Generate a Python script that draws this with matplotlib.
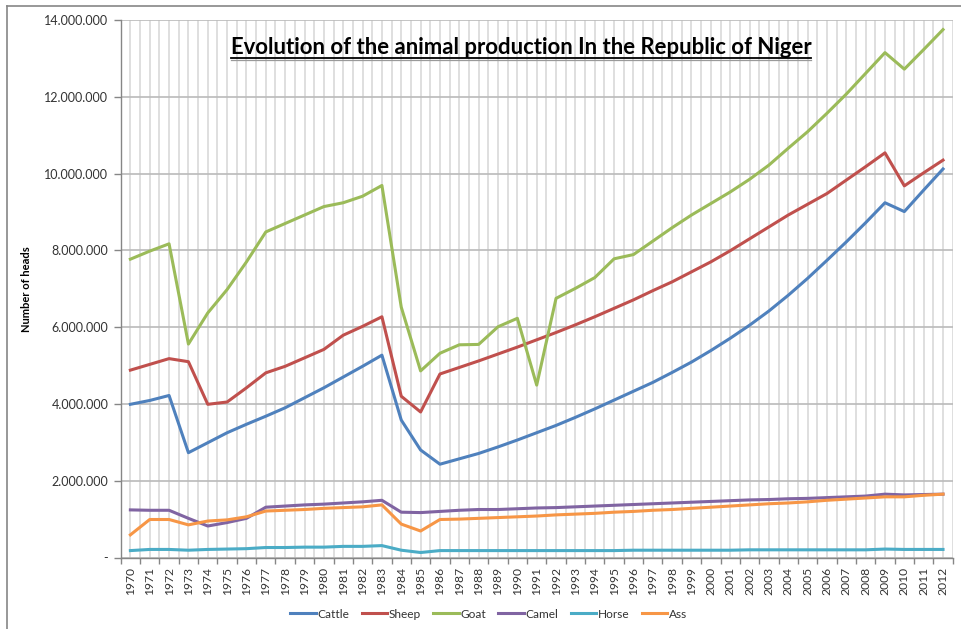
import matplotlib
matplotlib.use("Agg")
import matplotlib.pyplot as plt
from matplotlib.lines import Line2D
from matplotlib.ticker import FuncFormatter, FixedLocator
import numpy as np

plt.rcParams['font.family'] = ['Lato', 'DejaVu Sans']

years = [str(y) for y in range(1970, 2013)]

cattle = [3990000, 4090000, 4220000, 2730000, 2990000, 3250000, 3470000, 3680000, 3900000, 4160000,
          4420000, 4700000, 4980000, 5270000, 3580000, 2800000, 2430000, 2570000, 2710000, 2880000,
          3060000, 3250000, 3440000, 3650000, 3870000, 4100000, 4330000, 4560000, 4820000, 5090000,
          5390000, 5710000, 6050000, 6420000, 6830000, 7270000, 7740000, 8220000, 8720000, 9240000,
          9010000, 9570000, 10120000]
sheep = [4880000, 5030000, 5180000, 5100000, 3990000, 4050000, 4420000, 4810000, 4980000, 5200000,
         5420000, 5790000, 6020000, 6270000, 4200000, 3790000, 4780000, 4950000, 5120000, 5300000,
         5480000, 5670000, 5860000, 6060000, 6270000, 6490000, 6710000, 6950000, 7180000, 7440000,
         7700000, 7990000, 8300000, 8610000, 8920000, 9200000, 9480000, 9830000, 10180000, 10540000,
         9680000, 10020000, 10350000]
goat = [7770000, 7980000, 8170000, 5560000, 6370000, 6980000, 7700000, 8480000, 8700000, 8920000,
        9140000, 9240000, 9410000, 9690000, 6520000, 4860000, 5320000, 5540000, 5550000, 6010000,
        6230000, 4490000, 6750000, 7010000, 7290000, 7780000, 7890000, 8240000, 8590000, 8920000,
        9220000, 9520000, 9850000, 10220000, 10660000, 11090000, 11570000, 12070000, 12610000, 13150000,
        12720000, 13230000, 13750000]
camel = [1240000, 1230000, 1230000, 1020000, 820000, 910000, 1020000, 1310000, 1340000, 1370000,
         1390000, 1420000, 1450000, 1490000, 1180000, 1170000, 1200000, 1230000, 1250000, 1250000,
         1270000, 1290000, 1300000, 1320000, 1340000, 1360000, 1380000, 1400000, 1420000, 1440000,
         1460000, 1480000, 1500000, 1510000, 1530000, 1540000, 1560000, 1580000, 1600000, 1650000,
         1630000, 1640000, 1650000]
horse = [180000, 210000, 210000, 190000, 210000, 220000, 230000, 260000, 260000, 270000,
         270000, 290000, 290000, 310000, 190000, 130000, 180000, 180000, 180000, 180000,
         180000, 180000, 180000, 180000, 180000, 180000, 190000, 190000, 190000, 190000,
         190000, 190000, 200000, 200000, 200000, 200000, 200000, 200000, 200000, 220000,
         210000, 210000, 210000]
ass = [590000, 990000, 990000, 850000, 950000, 980000, 1060000, 1210000, 1230000, 1250000,
       1280000, 1300000, 1320000, 1370000, 870000, 690000, 990000, 1000000, 1020000, 1040000,
       1060000, 1080000, 1110000, 1130000, 1150000, 1180000, 1200000, 1230000, 1250000, 1280000,
       1310000, 1340000, 1370000, 1400000, 1420000, 1450000, 1490000, 1520000, 1550000, 1580000,
       1580000, 1620000, 1650000]

series_names = ["Cattle", "Sheep", "Goat", "Camel", "Horse", "Ass"]
series_vals = [cattle, sheep, goat, camel, horse, ass]
colors = ["#4F81BD", "#C0504D", "#9BBB59", "#8064A2", "#4BACC6", "#F79646"]

W, H = 961, 629
fig = plt.figure(figsize=(W / 100, H / 100), dpi=100)
ax = fig.add_axes([120.7 / W, 1 - 557.5 / H, (952.7 - 120.7) / W, (557.5 - 20) / H])

x = np.arange(len(years))
for name, vals, c in zip(series_names, series_vals, colors):
    ax.plot(x, vals, color=c, lw=2.2, label=name, solid_joinstyle='round', zorder=3)

ax.set_xlim(-0.5, len(years) - 0.5)
ax.set_ylim(0, 14000000)

# gridlines
for k in range(len(years) + 1):
    ax.axvline(k - 0.5, color="#d9d9d9", lw=1.2, zorder=1)
for k in range(len(years)):
    ax.axvline(k, color="#d9d9d9", lw=1.2, zorder=1)
yticks = np.arange(0, 14000001, 2000000)
for yv in yticks:
    ax.axhline(yv, color="#bababa", lw=1.2, zorder=1.5)

ax.yaxis.set_major_locator(FixedLocator(yticks))
def fmt(v, pos):
    if v == 0:
        return "-"
    return "{:,.0f}".format(v).replace(",", ".")
ax.yaxis.set_major_formatter(FuncFormatter(fmt))

ax.set_xticks(x)
ax.set_xticklabels(years, rotation=90, fontsize=8.7, color="#333333")
ax.tick_params(axis='x', length=0, pad=7)
ax.set_xticks(np.arange(len(years) + 1) - 0.5, minor=True)
ax.tick_params(axis='x', which='minor', length=4, color="#868686", width=1)
ax.tick_params(axis='y', length=5, color="#868686", width=1, labelsize=9, labelcolor="#333333", pad=4)

for s in ['top', 'right']:
    ax.spines[s].set_visible(False)
for s in ['left', 'bottom']:
    ax.spines[s].set_color("#868686")
    ax.spines[s].set_linewidth(1)

ax.set_ylabel("Number of heads", fontsize=8, fontweight='bold', color="#000000", labelpad=8)
ax.yaxis.set_label_coords((32 - 120.7) / (952.7 - 120.7), 0.5)

# title
t = fig.text(521 / W, 1 - 48 / H, "Evolution of the animal production In the Republic of Niger",
             ha='center', va='center', fontsize=15.9, fontweight='bold', color="#000000")

# legend
leg = fig.legend(loc='center', bbox_to_anchor=(488.5 / W, 1 - 614 / H), ncol=6, frameon=False,
                 fontsize=8.6, handlelength=2.15, handletextpad=0.1, columnspacing=1.05,
                 labelcolor="#333333")

# chart border (top and left)
fig.add_artist(Line2D([6.5 / W, 1.0], [1 - 5.5 / H, 1 - 5.5 / H], color="#868686", lw=1.2,
                      transform=fig.transFigure))
fig.add_artist(Line2D([6.5 / W, 6.5 / W], [0, 1 - 5.5 / H], color="#868686", lw=1.2,
                      transform=fig.transFigure))

# underline title
fig.canvas.draw()
bb = t.get_window_extent(renderer=fig.canvas.get_renderer())
x0, x1 = bb.x0 / W, bb.x1 / W
yu = (bb.y0 + 1) / H
fig.add_artist(Line2D([x0, x1], [yu, yu], color="#000000", lw=1.3, transform=fig.transFigure))
fig.add_artist(Line2D([x0, x1], [yu - 2.2 / H, yu - 2.2 / H], color="#9a9a9a", lw=0.9,
                      transform=fig.transFigure))

fig.savefig("out.png", dpi=100)
